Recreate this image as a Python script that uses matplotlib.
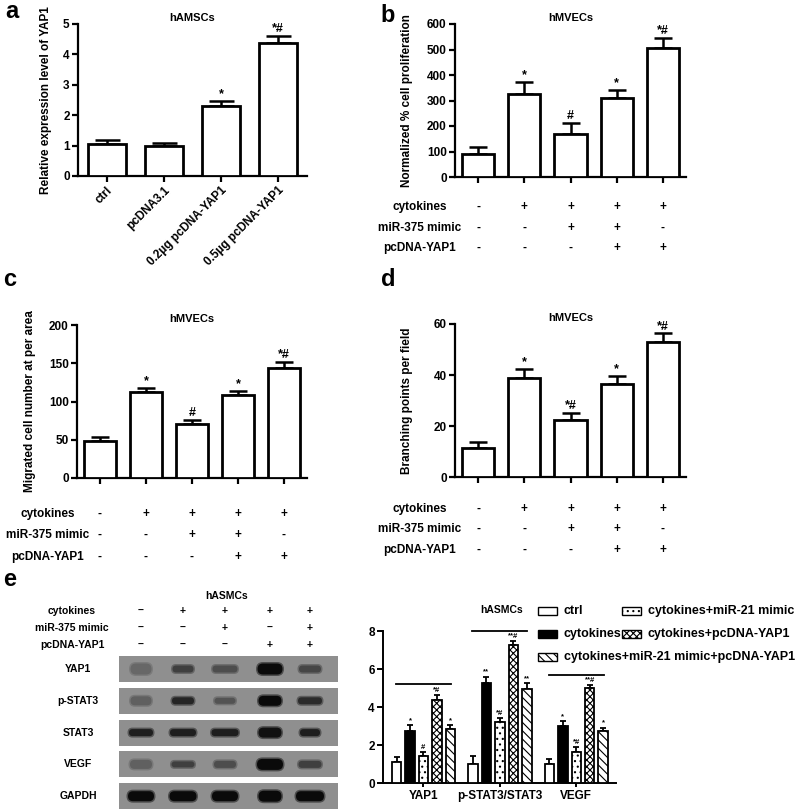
import numpy as np
import matplotlib
matplotlib.use('Agg')
from matplotlib import pyplot as plt
from matplotlib.patches import Rectangle, FancyBboxPatch

plt.rcParams['font.family'] = ['Liberation Sans', 'DejaVu Sans']
plt.rcParams['font.weight'] = 'bold'
plt.rcParams['hatch.linewidth'] = 0.8

W, H = 800, 811

# panel a
a_labels = ['ctrl', 'pcDNA3.1', '0.2\u00b5g pcDNA-YAP1', '0.5\u00b5g pcDNA-YAP1']
a_vals = [1.05, 0.99, 2.30, 4.38]
a_errs = [0.12, 0.10, 0.17, 0.22]
a_marks = ['', '', '*', '*#']

# panel b-d treatments
cyto_row = ['-', '+', '+', '+', '+']
mimic_row = ['-', '-', '+', '+', '-']
yap_row = ['-', '-', '-', '+', '+']
row_names = ['cytokines', 'miR-375 mimic', 'pcDNA-YAP1']

b_vals = [92, 325, 168, 308, 505]
b_errs = [26, 46, 43, 35, 40]
b_marks = ['', '*', '#', '*', '*#']

c_vals = [48, 113, 70, 109, 144]
c_errs = [6, 5, 6, 5, 8]
c_marks = ['', '*', '#', '*', '*#']

d_vals = [11.4, 38.8, 22.5, 36.6, 53.0]
d_errs = [2.4, 3.5, 2.7, 2.9, 3.3]
d_marks = ['', '*', '*#', '*', '*#']

# panel e blot
blot_rows = ['YAP1', 'p-STAT3', 'STAT3', 'VEGF', 'GAPDH']
blot_cyto = ['\u2013', '+', '+', '+', '+']
blot_mimic = ['\u2013', '\u2013', '+', '\u2013', '+']
blot_yap = ['\u2013', '\u2013', '\u2013', '+', '+']
band_int = [[0.30, 0.60, 0.50, 1.00, 0.55],
            [0.35, 0.80, 0.45, 1.00, 0.75],
            [0.85, 0.85, 0.85, 0.95, 0.85],
            [0.35, 0.60, 0.50, 1.00, 0.60],
            [1.00, 1.00, 1.00, 1.00, 1.00]]
band_w = [[21, 21, 25, 25, 22],
          [21, 22, 21, 23, 24],
          [24, 26, 27, 23, 20],
          [22, 23, 22, 26, 23],
          [26, 27, 26, 23, 28]]
band_h = [[11, 7, 7, 11, 7],
          [9, 7, 6, 10, 7],
          [7, 7, 7, 10, 7],
          [9, 6, 7, 11, 7],
          [10, 10, 10, 11, 10]]

# panel e bars
e_groups = ['YAP1', 'p-STAT3/STAT3', 'VEGF']
e_series = ['ctrl', 'cytokines', 'cytokines+miR-21 mimic',
            'cytokines+pcDNA-YAP1', 'cytokines+miR-21 mimic+pcDNA-YAP1']
e_vals = [[1.08, 1.02, 0.98],
          [2.75, 5.25, 3.00],
          [1.44, 3.20, 1.65],
          [4.39, 7.25, 5.02],
          [2.84, 4.95, 2.72]]
e_errs = [[0.28, 0.42, 0.30],
          [0.28, 0.35, 0.27],
          [0.20, 0.20, 0.25],
          [0.26, 0.25, 0.15],
          [0.21, 0.30, 0.20]]
e_marks = [['', '', ''],
           ['*', '**', '*'],
           ['#', '*#', '*#'],
           ['*#', '**#', '**#'],
           ['*', '**', '*']]
e_lines = [5.2, 8.0, 5.7]

e_face = ['white', 'black', 'white', 'white', 'white']
e_hatch = [None, None, '...', 'xxxxx', '\\\\\\\\']

fig = plt.figure(figsize=(W / 100, H / 100), dpi=100)


def px_axes(x0, y0, x1, y1):
    return fig.add_axes([x0 / W, 1 - y1 / H, (x1 - x0) / W, (y1 - y0) / H])


def style(ax, lw=1.6):
    for s in ['top', 'right']:
        ax.spines[s].set_visible(False)
    for s in ['left', 'bottom']:
        ax.spines[s].set_linewidth(lw)
    ax.tick_params(width=lw, length=4, labelsize=8.5, pad=2)


def bar_panel(ax, vals, errs, marks, ylim, yticks, ylabel, title, width, cap):
    x = np.arange(len(vals))
    ax.bar(x, vals, width, color='white', edgecolor='black', linewidth=2, zorder=3)
    ax.errorbar(x, vals, yerr=[np.zeros(len(errs)), errs], fmt='none',
                ecolor='black', elinewidth=1.8, capsize=cap, capthick=1.8, zorder=2)
    for xi, v, e, m in zip(x, vals, errs, marks):
        ax.text(xi, v + e + ylim[1] * 0.005, m, ha='center', va='bottom',
                fontsize=9, fontweight='bold')
    ax.set_xlim(-0.5, len(vals) - 0.5)
    ax.set_ylim(*ylim)
    ax.set_yticks(yticks)
    ax.set_xticks(x)
    ax.set_ylabel(ylabel, fontsize=8.5, fontweight='bold')
    ax.set_title(title, fontsize=8, fontweight='bold', pad=2)
    style(ax)


def treatments(ax, height_px, offsets, label_x):
    tr = ax.get_xaxis_transform()
    for row, name, off in zip([cyto_row, mimic_row, yap_row], row_names, offsets):
        yy = -off / height_px
        ax.text(label_x, yy, name, transform=tr, ha='center', va='center',
                fontsize=8.5, fontweight='bold', clip_on=False)
        for xi, s in enumerate(row):
            ax.text(xi, yy, s, transform=tr, ha='center', va='center',
                    fontsize=8.5, fontweight='bold', clip_on=False)


# a
ax_a = px_axes(78, 24, 307, 176)
bar_panel(ax_a, a_vals, a_errs, a_marks, (0, 5), range(0, 6),
          'Relative expression level of YAP1', 'hAMSCs', 0.66, 9)
ax_a.set_xticklabels(a_labels, rotation=45, ha='right', rotation_mode='anchor',
                     fontsize=8.5, fontweight='bold')
ax_a.yaxis.set_label_coords(-0.115, 0.5)

# b
ax_b = px_axes(455, 24, 686, 177)
bar_panel(ax_b, b_vals, b_errs, b_marks, (0, 600), range(0, 601, 100),
          'Normalized % cell proliferation', 'hMVECs', 0.7, 6.5)
ax_b.set_xticklabels([])
ax_b.yaxis.set_label_coords(-0.18, 0.5)
treatments(ax_b, 153, [30, 51, 71], -1.27)

# c
ax_c = px_axes(77, 325, 307, 478)
bar_panel(ax_c, c_vals, c_errs, c_marks, (0, 200), range(0, 201, 50),
          'Migrated cell number at per area', 'hMVECs', 0.7, 6.5)
ax_c.set_xticklabels([])
ax_c.yaxis.set_label_coords(-0.18, 0.5)
treatments(ax_c, 153, [36, 57, 79], -1.14)

# d
ax_d = px_axes(455, 324, 686, 477)
bar_panel(ax_d, d_vals, d_errs, d_marks, (0, 60), range(0, 61, 20),
          'Branching points per field', 'hMVECs', 0.7, 6.5)
ax_d.set_xticklabels([])
ax_d.yaxis.set_label_coords(-0.18, 0.5)
treatments(ax_d, 153, [32, 52, 73], -1.27)

# e bars
ax_e = px_axes(383, 631, 616, 783)
gx = np.arange(len(e_groups))
step = 0.176
bw = 0.125
for k in range(len(e_series)):
    pos = gx + (k - 2) * step
    ax_e.bar(pos, e_vals[k], bw, color=e_face[k], edgecolor='black',
             hatch=e_hatch[k], linewidth=1.3, zorder=3)
    ax_e.errorbar(pos, e_vals[k], yerr=[np.zeros(3), e_errs[k]], fmt='none',
                  ecolor='black', elinewidth=1.3, capsize=2.5, capthick=1.3, zorder=2)
    for p, v, e, m in zip(pos, e_vals[k], e_errs[k], e_marks[k]):
        ax_e.text(p, v + e + 0.05, m, ha='center', va='bottom', fontsize=5.5,
                  fontweight='bold')
for g, hgt in zip(gx, e_lines):
    ax_e.plot([g - 0.36, g + 0.36], [hgt, hgt], color='black', lw=1.3, clip_on=False)
ax_e.set_xlim(-0.53, 2.52)
ax_e.set_ylim(0, 8)
ax_e.set_yticks(range(0, 9, 2))
ax_e.set_xticks(gx)
ax_e.set_xticklabels(e_groups, fontsize=8.5, fontweight='bold')
style(ax_e, 1.4)
ax_e.tick_params(axis='x', length=3)

# overlay in pixel coordinates
ov = fig.add_axes([0, 0, 1, 1])
ov.set_xlim(0, W)
ov.set_ylim(H, 0)
ov.axis('off')

for lab, (lx, ly) in zip('abcde', [(12, 12), (388, 16), (10, 280), (388, 280), (10, 579)]):
    ov.text(lx, ly, lab, fontsize=17, fontweight='bold', ha='center', va='center')

# blot
lanes = [141, 183, 225, 270, 310]
ov.text(227, 596, 'hASMCs', fontsize=7.5, fontweight='bold', ha='center', va='center')
for row, name, yy in zip([blot_cyto, blot_mimic, blot_yap],
                         ['cytokines', 'miR-375 mimic', 'pcDNA-YAP1'], [611, 628, 645]):
    ov.text(72, yy, name, fontsize=7.5, fontweight='bold', ha='center', va='center')
    for lx, s in zip(lanes, row):
        ov.text(lx, yy, s, fontsize=7.5, fontweight='bold', ha='center', va='center')

bg = 0.56
for j, name in enumerate(blot_rows):
    top = 656 + 31.8 * j
    cy = top + 13
    ov.add_patch(Rectangle((119, top), 219, 26, facecolor=str(bg), edgecolor='none'))
    ov.text(78, cy, name, fontsize=7.5, fontweight='bold', ha='center', va='center')
    for i, lx in enumerate(lanes):
        it = band_int[j][i]
        w = band_w[j][i]
        h = band_h[j][i]
        for grow, frac in [(3, 0.5), (0, 1.0)]:
            g = bg * (1 - it * frac) + 0.04 * it * frac
            ww, hh = w + grow, h + grow
            ov.add_patch(FancyBboxPatch((lx - ww / 2, cy - hh / 2), ww, hh,
                                        boxstyle='round,pad=0,rounding_size=%.1f' % (hh / 2),
                                        facecolor=str(g), edgecolor='none'))

# legend for e
ov.text(502, 610, 'hASMCs', fontsize=7.5, fontweight='bold', ha='center', va='center')
leg_pos = [(538, 611), (538, 634), (622, 611), (622, 634), (538, 657)]
for k, (lx, ly) in enumerate(leg_pos):
    ov.add_patch(Rectangle((lx, ly - 4), 19, 8, facecolor=e_face[k], edgecolor='black',
                           hatch=e_hatch[k], linewidth=1.0))
    ov.text(lx + 26, ly, e_series[k], fontsize=9, fontweight='bold', ha='left',
            va='center')

fig.savefig('out.png', dpi=100)
